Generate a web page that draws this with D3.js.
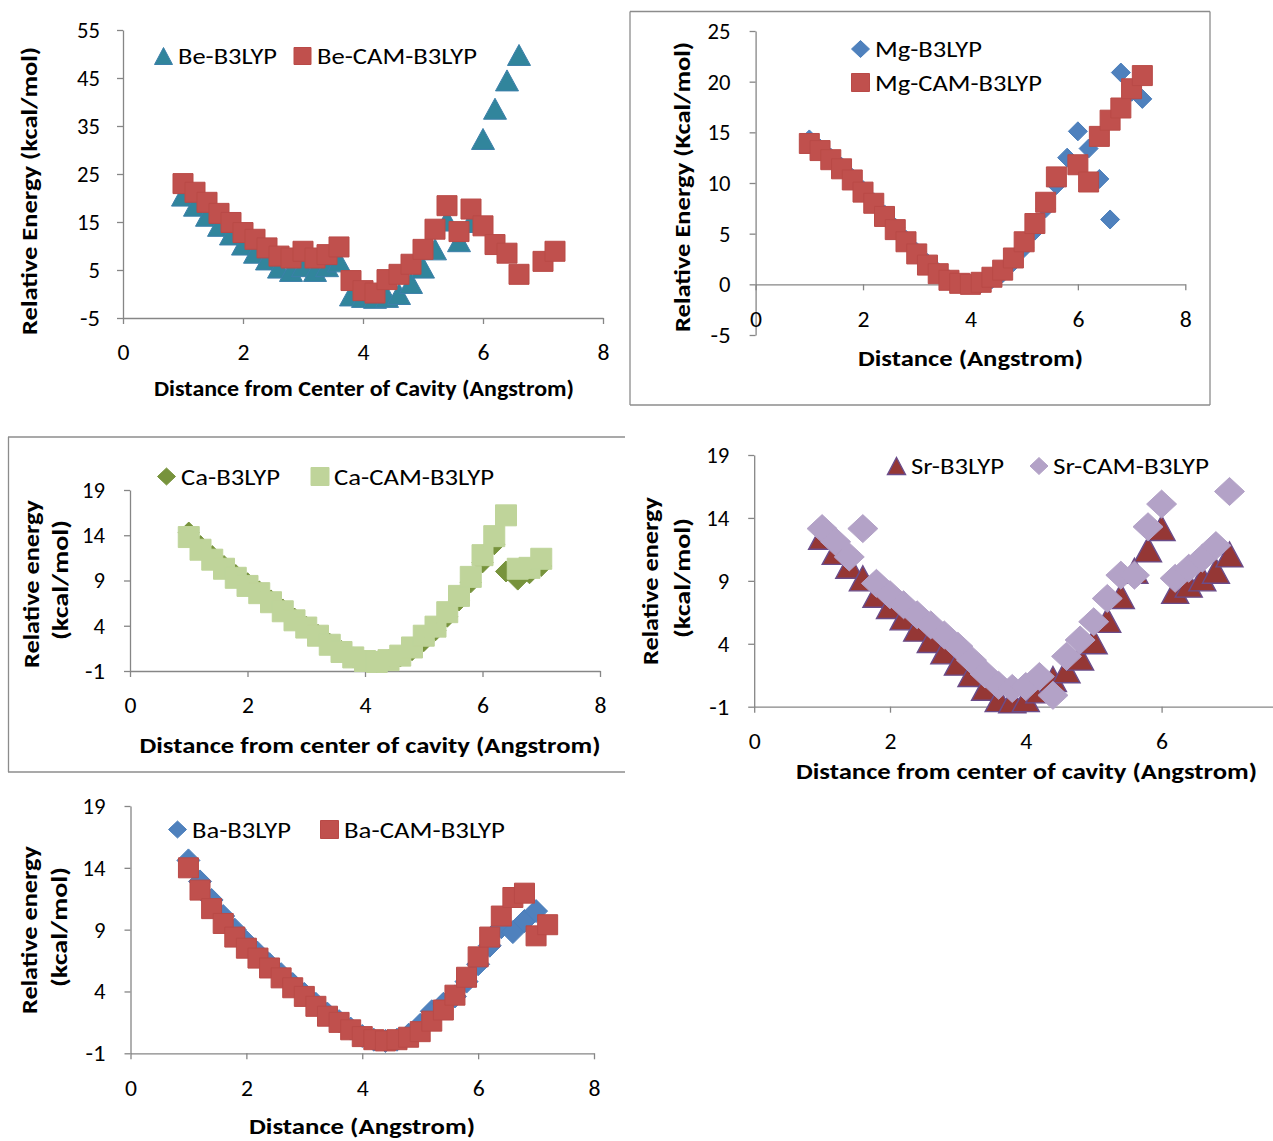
<!DOCTYPE html>
<html><head><meta charset="utf-8">
<script src="https://cdn.jsdelivr.net/npm/d3@7"></script>
<style>
html,body{margin:0;padding:0;background:#fff;}
svg{display:block;}
text{font-family: Carlito, Calibri, Lato, "Open Sans", sans-serif;}
</style></head><body>
<svg id="chart" width="1273" height="1141"></svg>
<script>
// ---------------- DATA ----------------
const beB3lypX = [1.0,1.2,1.4,1.6,1.8,2.0,2.2,2.4,2.6,2.8,3.0,3.2,3.4,3.6,3.8,4.0,4.2,4.4,4.6,4.8,5.0,5.2,5.4,5.6,5.8,6.0,6.2,6.4,6.6];
const beB3lypY = [20.5,18.4,16.3,14.2,12.4,10.3,8.6,7.2,5.5,4.8,5.8,4.8,5.8,6.8,-0.3,-0.6,-0.8,-0.6,0.0,2.3,5.5,9.3,15.3,11.0,15.0,32.3,38.6,44.5,49.8];
const beCamX = [1.0,1.2,1.4,1.6,1.8,2.0,2.2,2.4,2.6,2.8,3.0,3.2,3.4,3.6,3.8,4.0,4.2,4.4,4.6,4.8,5.0,5.2,5.4,5.6,5.8,6.0,6.2,6.4,6.6,7.0,7.2];
const beCamY = [23.0,21.2,19.1,16.8,14.9,12.8,11.4,9.6,7.9,7.5,8.9,7.5,8.2,9.8,2.8,0.7,0.2,3.0,4.1,6.2,9.3,13.5,18.4,13.0,17.7,14.2,10.3,8.5,4.1,6.8,8.9];

const mgB3lypX = [1.0,1.2,1.4,1.6,1.8,2.0,2.2,2.4,2.6,2.8,3.0,3.2,3.4,3.6,3.8,4.0,4.2,4.4,4.6,4.8,5.0,5.2,5.4,5.6,5.8,6.0,6.2,6.4,6.6,6.8,7.0,7.2];
const mgB3lypY = [14.3,13.4,12.5,11.6,10.5,9.3,8.1,6.9,5.6,4.4,3.2,2.1,1.2,0.5,0.1,0.0,0.1,0.5,1.1,2.2,3.6,5.3,7.5,9.8,12.5,15.1,13.4,10.4,6.4,20.9,19.0,18.3];
const mgCamX = [1.0,1.2,1.4,1.6,1.8,2.0,2.2,2.4,2.6,2.8,3.0,3.2,3.4,3.6,3.8,4.0,4.2,4.4,4.6,4.8,5.0,5.2,5.4,5.6,6.0,6.2,6.4,6.6,6.8,7.0,7.2];
const mgCamY = [13.9,13.2,12.3,11.4,10.3,9.1,8.0,6.7,5.4,4.2,3.0,1.9,1.05,0.4,0.1,0.0,0.2,0.7,1.4,2.6,4.2,6.0,8.1,10.6,11.8,10.1,14.6,16.2,17.4,19.3,20.6];

const caB3lypX = [1.0,1.2,1.4,1.6,1.8,2.0,2.2,2.4,2.6,2.8,3.0,3.2,3.4,3.6,3.8,4.0,4.2,4.4,4.6,4.8,5.0,5.2,5.4,5.6,5.8,6.0,6.2,6.4,6.6,6.8,7.0];
const caB3lypY = [14.3,12.8,11.7,10.6,9.6,8.7,7.8,6.8,5.8,4.8,3.9,3.0,2.0,1.2,0.5,0.1,0.0,0.2,0.6,1.3,2.3,3.5,5.0,6.8,8.8,11.0,13.0,10.0,9.1,9.8,10.6];
const caCamX = [1.0,1.2,1.4,1.6,1.8,2.0,2.2,2.4,2.6,2.8,3.0,3.2,3.4,3.6,3.8,4.0,4.2,4.4,4.6,4.8,5.0,5.2,5.4,5.6,5.8,6.0,6.2,6.4,6.6,6.8,7.0];
const caCamY = [13.8,12.4,11.3,10.3,9.3,8.4,7.6,6.6,5.6,4.6,3.8,2.9,1.9,1.1,0.5,0.1,0.0,0.2,0.7,1.6,2.9,3.9,5.5,7.3,9.4,11.8,13.9,16.2,10.3,10.4,11.4];

const srB3lypX = [1.0,1.2,1.4,1.6,1.8,2.0,2.2,2.4,2.6,2.8,3.0,3.2,3.4,3.6,3.8,4.0,4.2,4.4,4.6,4.8,5.0,5.2,5.4,5.6,5.8,6.0,6.2,6.4,6.6,6.8,7.0];
const srB3lypY = [12.5,11.3,10.2,9.2,7.9,7.0,6.1,5.2,4.3,3.4,2.5,1.6,0.5,-0.4,-0.5,-0.4,0.3,1.2,1.9,2.9,4.2,5.9,7.8,9.8,11.5,13.2,8.2,8.7,9.2,9.8,11.1];
const srCamX = [1.0,1.2,1.4,1.6,1.8,2.0,2.2,2.4,2.6,2.8,3.0,3.2,3.4,3.6,3.8,4.0,4.2,4.4,4.6,4.8,5.0,5.2,5.4,5.6,5.8,6.0,6.2,6.4,6.6,6.8,7.0];
const srCamY = [13.15,12.1,10.9,13.15,8.8,7.9,7.1,6.3,5.5,4.7,3.8,2.7,1.6,0.7,0.45,0.6,1.4,-0.1,3.0,4.3,5.75,7.6,9.45,9.45,13.3,15.1,9.2,10.0,10.8,11.8,16.1];

const baB3lypX = [1.0,1.2,1.4,1.6,1.8,2.0,2.2,2.4,2.6,2.8,3.0,3.2,3.4,3.6,3.8,4.0,4.2,4.4,4.6,4.8,5.0,5.2,5.4,5.6,5.8,6.0,6.2,6.4,6.6,6.8,7.0];
const baB3lypY = [14.6,12.9,11.4,10.1,9.0,8.0,7.1,6.2,5.4,4.6,3.8,3.0,2.2,1.6,1.0,0.4,0.1,0.0,0.1,0.5,1.3,2.4,3.0,3.6,4.8,6.2,7.7,9.2,8.8,9.7,10.5];
const baCamX = [1.0,1.2,1.4,1.6,1.8,2.0,2.2,2.4,2.6,2.8,3.0,3.2,3.4,3.6,3.8,4.0,4.2,4.4,4.6,4.8,5.0,5.2,5.4,5.6,5.8,6.0,6.2,6.4,6.6,6.8,7.0,7.2];
const baCamY = [14.0,12.2,10.7,9.5,8.4,7.5,6.7,5.9,5.1,4.3,3.6,2.8,2.0,1.5,0.9,0.35,0.1,0.0,0.1,0.3,0.75,1.6,2.5,3.7,5.15,6.8,8.4,10.1,11.6,11.95,8.5,9.4];

const xTicks8 = [0,2,4,6,8];
const xTicksSr = [0,2,4,6];
const yTicksBe = [-5,5,15,25,35,45,55];
const yTicksMg = [-5,0,5,10,15,20,25];
const yTicks19 = [-1,4,9,14,19];

// ---------------- DRAWING ----------------
const svg = d3.select("#chart");
const AX = "#868686";
const TICK_FS = "23px", LEG_FS = "23px", TITLE_FS = "22px";

function markerPath(shape, w, h) {
  if (shape === "square") return `M${-w/2},${-h/2}h${w}v${h}h${-w}Z`;
  if (shape === "diamond") return `M0,${-h/2}L${w/2},0L0,${h/2}L${-w/2},0Z`;
  return `M0,${-h/2}L${w/2},${h/2}L${-w/2},${h/2}Z`;
}

function drawPanel(p) {
  const g = svg.append("g");
  const x = d3.scaleLinear().domain([0, 8]).range(p.xRange);
  const y = d3.scaleLinear().domain(p.yDomain).range(p.yRange);

  if (p.frame) {
    p.frame.forEach(l => g.append("line").attr("x1", l[0]).attr("y1", l[1]).attr("x2", l[2]).attr("y2", l[3])
      .attr("stroke", "#8c8c8c").attr("stroke-width", 1.3));
  }

  const fmt = d => String(d);
  const ya = g.append("g").attr("transform", `translate(${p.xRange[0]},0)`)
    .call(d3.axisLeft(y).tickValues(p.yTicks).tickSize(6).tickSizeOuter(0).tickPadding(p.yPad).tickFormat(fmt));
  const xa = g.append("g").attr("transform", `translate(0,${y(p.xAxisAt)})`)
    .call(d3.axisBottom(x).tickValues(p.xTicks).tickSize(6).tickSizeOuter(0).tickFormat(fmt));
  xa.selectAll("text").attr("y", p.xLabOff).attr("dy", "0.35em");
  [ya, xa].forEach(a => {
    a.select(".domain").attr("stroke", AX).attr("stroke-width", 1.3);
    a.selectAll(".tick line").attr("stroke", AX).attr("stroke-width", 1.3);
    a.selectAll(".tick text").attr("fill", "#000").style("font-size", TICK_FS)
      .style("font-family", "Carlito, Calibri, Lato, sans-serif");
  });
  ya.selectAll(".tick text").each(function(d) {
    const s = String(d);
    d3.select(this).attr("textLength", s.length * 11.5 + (s[0] === "-" ? -3 : 0)).attr("lengthAdjust", "spacingAndGlyphs");
  });
  xa.selectAll(".tick text").attr("textLength", 12).attr("lengthAdjust", "spacingAndGlyphs");

  // series
  p.series.forEach(s => {
    g.append("g").selectAll("path").data(d3.zip(s.x, s.y)).join("path")
      .attr("transform", d => `translate(${x(d[0])},${y(d[1])})`)
      .attr("d", markerPath(s.shape, s.w, s.h))
      .attr("fill", s.fill).attr("stroke", s.stroke).attr("stroke-width", s.sw || 1);
  });

  // legend
  p.legend.forEach(l => {
    g.append("path").attr("transform", `translate(${l.mx},${l.my})`)
      .attr("d", markerPath(l.shape, l.w, l.h))
      .attr("fill", l.fill).attr("stroke", l.stroke).attr("stroke-width", l.sw || 1);
    g.append("text").attr("x", l.tx).attr("y", l.my).attr("dy", "0.35em")
      .attr("textLength", l.tw).attr("lengthAdjust", "spacingAndGlyphs")
      .style("font-size", LEG_FS).attr("fill", "#000").text(l.text);
  });

  // x title
  g.append("text").attr("x", p.xTitle.cx).attr("y", p.xTitle.cy).attr("dy", "0.35em")
    .attr("text-anchor", "middle").attr("textLength", p.xTitle.w).attr("lengthAdjust", "spacingAndGlyphs")
    .style("font-size", TITLE_FS).style("font-weight", "bold").text(p.xTitle.text);
  // y title lines
  p.yTitle.forEach(t => {
    g.append("text").attr("transform", `translate(${t.cx},${t.cy}) rotate(-90)`).attr("dy", "0.35em")
      .attr("text-anchor", "middle").attr("textLength", t.w).attr("lengthAdjust", "spacingAndGlyphs")
      .style("font-size", TITLE_FS).style("font-weight", "bold").text(t.text);
  });
}

const cTeal = "#31859C", cRed = "#C0504D", cBlue = "#4F81BD", cOlive = "#77933C", cLime = "#BFD49A",
      cMaroon = "#953735", cLav = "#B3A2C7";

// Be
drawPanel({
  xRange: [123, 603], yDomain: [-5, 55], yRange: [318, 30], yTicks: yTicksBe, yPad: 17,
  xTicks: xTicks8, xAxisAt: -5, xLabOff: 34,
  series: [
    {x: beB3lypX, y: beB3lypY, shape: "triangle", w: 23, h: 21, fill: cTeal, stroke: "#3C7FAA"},
    {x: beCamX, y: beCamY, shape: "square", w: 20, h: 20, fill: cRed, stroke: "#B94A47"}
  ],
  legend: [
    {shape: "triangle", w: 18, h: 17, mx: 163.5, my: 56, fill: cTeal, stroke: "#3C7FAA", tx: 178, tw: 99, text: "Be-B3LYP"},
    {shape: "square", w: 17, h: 17, mx: 302.5, my: 56, fill: cRed, stroke: "#B94A47", tx: 317, tw: 160, text: "Be-CAM-B3LYP"}
  ],
  xTitle: {cx: 364, cy: 388, w: 420, text: "Distance from Center of Cavity (Angstrom)"},
  yTitle: [{cx: 29, cy: 191, w: 288, text: "Relative Energy (kcal/mol)"}]
});

// Mg
drawPanel({
  xRange: [755.6, 1185.3], yDomain: [-5, 25], yRange: [335, 31], yTicks: yTicksMg, yPad: 19,
  xTicks: xTicks8, xAxisAt: 0, xLabOff: 35,
  frame: [[630, 11.5, 1210, 11.5], [630, 405, 1210, 405], [630, 11.5, 630, 405], [1210, 11.5, 1210, 405]],
  series: [
    {x: mgB3lypX, y: mgB3lypY, shape: "diamond", w: 19, h: 19, fill: cBlue, stroke: "#4A7EBB"},
    {x: mgCamX, y: mgCamY, shape: "square", w: 20, h: 20, fill: cRed, stroke: "#B94A47"}
  ],
  legend: [
    {shape: "diamond", w: 18, h: 17, mx: 860.5, my: 49, fill: cBlue, stroke: "#4A7EBB", tx: 875, tw: 107, text: "Mg-B3LYP"},
    {shape: "square", w: 18, h: 18, mx: 860.5, my: 82.5, fill: cRed, stroke: "#B94A47", tx: 875, tw: 167, text: "Mg-CAM-B3LYP"}
  ],
  xTitle: {cx: 970.5, cy: 358, w: 225, text: "Distance (Angstrom)"},
  yTitle: [{cx: 682, cy: 187, w: 290, text: "Relative Energy (Kcal/mol)"}]
});

// Ca
drawPanel({
  xRange: [130, 600], yDomain: [-1, 19], yRange: [671, 490], yTicks: yTicks19, yPad: 19,
  xTicks: xTicks8, xAxisAt: -1, xLabOff: 34,
  frame: [[8, 437, 625, 437], [8, 772, 625, 772], [8.5, 437, 8.5, 772]],
  series: [
    {x: caB3lypX, y: caB3lypY, shape: "diamond", w: 21, h: 21, fill: cOlive, stroke: cOlive},
    {x: caCamX, y: caCamY, shape: "square", w: 21, h: 21, fill: cLime, stroke: cLime}
  ],
  legend: [
    {shape: "diamond", w: 18, h: 17, mx: 166.5, my: 476.5, fill: cOlive, stroke: cOlive, tx: 181, tw: 99, text: "Ca-B3LYP"},
    {shape: "square", w: 18, h: 18, mx: 320, my: 476.5, fill: cLime, stroke: cLime, tx: 334, tw: 160, text: "Ca-CAM-B3LYP"}
  ],
  xTitle: {cx: 370, cy: 745, w: 461, text: "Distance from center of cavity (Angstrom)"},
  yTitle: [{cx: 31, cy: 584, w: 168, text: "Relative energy"}, {cx: 60, cy: 580, w: 120, text: "(kcal/mol)"}]
});

// Sr
drawPanel({
  xRange: [754.2, 1297.4], yDomain: [-1, 19], yRange: [706.7, 455], yTicks: yTicks19, yPad: 19,
  xTicks: xTicksSr, xAxisAt: -1, xLabOff: 34,
  series: [
    {x: srB3lypX, y: srB3lypY, shape: "triangle", w: 27, h: 25, fill: cMaroon, stroke: "#6A4C8A", sw: 1.4},
    {x: srCamX, y: srCamY, shape: "diamond", w: 30, h: 28, fill: cLav, stroke: cLav}
  ],
  legend: [
    {shape: "triangle", w: 18, h: 17, mx: 896.5, my: 466, fill: cMaroon, stroke: "#6A4C8A", sw: 1.4, tx: 911, tw: 93, text: "Sr-B3LYP"},
    {shape: "diamond", w: 18, h: 17, mx: 1039, my: 466, fill: cLav, stroke: cLav, tx: 1053, tw: 156, text: "Sr-CAM-B3LYP"}
  ],
  xTitle: {cx: 1026.5, cy: 771, w: 461, text: "Distance from center of cavity (Angstrom)"},
  yTitle: [{cx: 650, cy: 581, w: 168, text: "Relative energy"}, {cx: 682, cy: 578, w: 120, text: "(kcal/mol)"}]
});

// Ba
drawPanel({
  xRange: [130.5, 594], yDomain: [-1, 19], yRange: [1053.3, 806], yTicks: yTicks19, yPad: 19,
  xTicks: xTicks8, xAxisAt: -1, xLabOff: 35,
  series: [
    {x: baB3lypX, y: baB3lypY, shape: "diamond", w: 23, h: 23, fill: cBlue, stroke: "#4A7EBB"},
    {x: baCamX, y: baCamY, shape: "square", w: 20, h: 20, fill: cRed, stroke: "#B94A47"}
  ],
  legend: [
    {shape: "diamond", w: 18, h: 17, mx: 177.5, my: 829.5, fill: cBlue, stroke: "#4A7EBB", tx: 192, tw: 99, text: "Ba-B3LYP"},
    {shape: "square", w: 18, h: 18, mx: 329.5, my: 829.5, fill: cRed, stroke: "#B94A47", tx: 344, tw: 161, text: "Ba-CAM-B3LYP"}
  ],
  xTitle: {cx: 362, cy: 1126, w: 226, text: "Distance (Angstrom)"},
  yTitle: [{cx: 29, cy: 930, w: 168, text: "Relative energy"}, {cx: 59, cy: 927, w: 120, text: "(kcal/mol)"}]
});
</script>
</body></html>
